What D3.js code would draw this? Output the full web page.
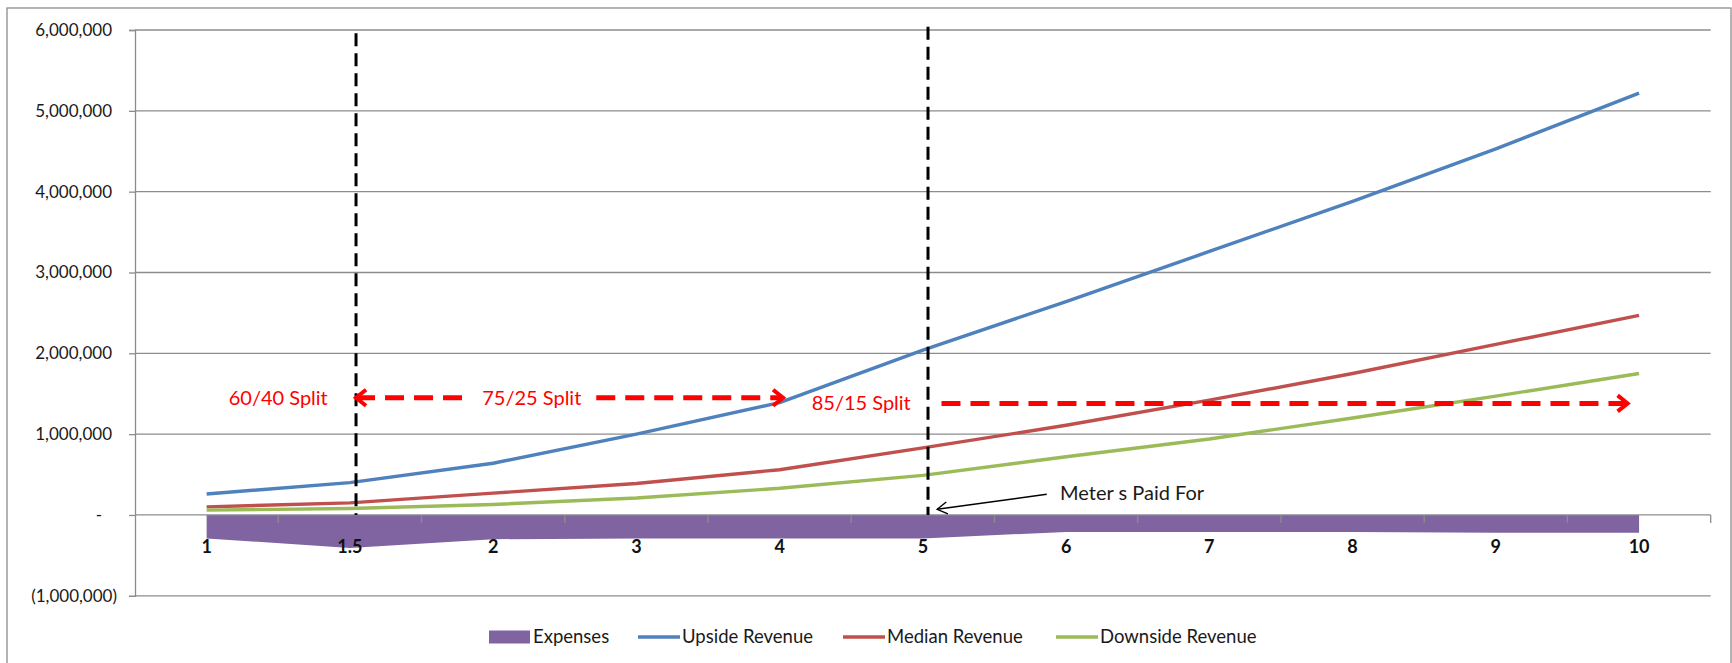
<!DOCTYPE html>
<html>
<head>
<meta charset="utf-8">
<script src="https://cdn.jsdelivr.net/npm/d3@7"></script>
<style>
  body { margin: 0; background: #fff; }
  text { font-family: Lato, "Open Sans", sans-serif; }
</style>
</head>
<body>
<svg id="chart" width="1732" height="663"></svg>
<script>
// chart data
var categories = ["1", "1.5", "2", "3", "4", "5", "6", "7", "8", "9", "10"];
var expenses = [-290000, -410000, -300000, -290000, -290000, -290000, -210000, -210000, -210000, -220000, -220000];
var upside   = [260000, 400000, 640000, 1000000, 1390000, 2040000, 2640000, 3260000, 3880000, 4530000, 5220000];
var median   = [100000, 150000, 270000, 390000, 560000, 830000, 1110000, 1420000, 1750000, 2110000, 2470000];
var downside = [60000, 80000, 130000, 210000, 330000, 490000, 720000, 940000, 1200000, 1470000, 1750000];
var yTicks = [-1000000, 0, 1000000, 2000000, 3000000, 4000000, 5000000, 6000000];

var seriesNames = ["Expenses", "Upside Revenue", "Median Revenue", "Downside Revenue"];

// annotations, in category-index / value units
var splitLabels = [
  { text: "60/40 Split", at: 0.5, v: 1450000 },
  { text: "75/25 Split", at: 2.27, v: 1450000 },
  { text: "85/15 Split", at: 4.57, v: 1380000 }
];

var svg = d3.select("#chart"),
  width = 1732,
  height = 663;

var plotLeft = 135, plotRight = 1710.7, plotTop = 30, plotBottom = 595.8;

var colors = { exp: "#8064a2", up: "#4f81bd", med: "#c0504d", down: "#9bbb59" };

// outer frame
svg.append("rect")
  .attr("x", 7).attr("y", 8)
  .attr("width", 1724).attr("height", 670)
  .attr("fill", "none").attr("stroke", "#8c8c8c").attr("stroke-width", 1.3);

var x = d3.scaleBand().domain(categories).range([plotLeft, plotRight]).padding(0);
var bw = x.bandwidth();
function cx(c) { return x(c) + bw / 2; }
// position in category-index units for annotations
var xi = d3.scaleLinear().domain([-0.5, categories.length - 0.5]).range([plotLeft, plotRight]);

var y = d3.scaleLinear().domain([-1000000, 6000000]).range([plotBottom, plotTop]);

// gridlines
svg.append("g")
  .selectAll("line")
  .data(yTicks.filter(function(d) { return d != 0; }))
  .enter()
  .append("line")
    .attr("x1", plotLeft).attr("x2", plotRight)
    .attr("y1", function(d) { return y(d); })
    .attr("y2", function(d) { return y(d); })
    .attr("stroke", "#8c8c8c").attr("stroke-width", 1.3);

// expenses area
var area = d3.area()
  .x(function(d, i) { return cx(categories[i]); })
  .y0(y(0))
  .y1(function(d) { return y(d); });

svg.append("path")
  .datum(expenses)
  .attr("d", area)
  .attr("fill", colors.exp);

// y axis
var fmt = d3.format(",");
var yAxis = svg.append("g")
  .attr("transform", "translate(" + plotLeft + ",0)")
  .call(d3.axisLeft(y).tickValues(yTicks).tickSize(6).tickPadding(17)
    .tickFormat(function(d) {
      if (d == 0) return "-";
      if (d < 0) return "(" + fmt(-d) + ")";
      return fmt(d);
    }));
yAxis.select(".domain").attr("stroke", "#8c8c8c").attr("stroke-width", 1.3);
yAxis.selectAll(".tick line").attr("stroke", "#8c8c8c").attr("stroke-width", 1.3);
yAxis.selectAll(".tick text")
  .attr("fill", "#1a1a1a")
  .style("font-size", "17px")
  .attr("dx", function(d) { return d < 0 ? 5 : (d == 0 ? -10 : 0); });

// x axis on the zero line
var xAxis = svg.append("g")
  .attr("transform", "translate(0," + y(0) + ")")
  .call(d3.axisBottom(x).tickSize(0).tickSizeOuter(0));
xAxis.select(".domain").attr("stroke", "#8c8c8c").attr("stroke-width", 1.3)
  .attr("d", "M" + plotLeft + ",0H" + plotRight);
xAxis.selectAll(".tick text")
  .attr("y", 32).attr("dy", "0.35em")
  .attr("fill", "#111")
  .style("font-size", "18px").style("font-weight", "bold");

// tick marks between categories
xAxis.selectAll(".btick")
  .data(categories.slice(1).concat(["end"]))
  .enter()
  .append("line")
    .attr("class", "btick")
    .attr("x1", function(d) { return d == "end" ? plotRight : x(d); })
    .attr("x2", function(d) { return d == "end" ? plotRight : x(d); })
    .attr("y1", 0).attr("y2", 8)
    .attr("stroke", "#8c8c8c").attr("stroke-width", 1.3);

// revenue lines
var line = d3.line()
  .x(function(d, i) { return cx(categories[i]); })
  .y(function(d) { return y(d); });

[[upside, colors.up], [median, colors.med], [downside, colors.down]].forEach(function(s) {
  svg.append("path")
    .datum(s[0])
    .attr("d", line)
    .attr("fill", "none")
    .attr("stroke", s[1])
    .attr("stroke-width", 3.4)
    .attr("stroke-linejoin", "round");
});

// markers for arrows
var defs = svg.append("defs");
defs.append("marker")
  .attr("id", "redhead")
  .attr("markerUnits", "userSpaceOnUse")
  .attr("markerWidth", 24).attr("markerHeight", 24)
  .attr("refX", 14).attr("refY", 10)
  .attr("orient", "auto-start-reverse")
  .attr("viewBox", "0 0 24 20")
  .append("path")
    .attr("d", "M4,2 L14,10 L4,18")
    .attr("fill", "none").attr("stroke", "#ff0000").attr("stroke-width", 4);
defs.append("marker")
  .attr("id", "blackhead")
  .attr("markerUnits", "userSpaceOnUse")
  .attr("markerWidth", 16).attr("markerHeight", 16)
  .attr("refX", 12).attr("refY", 8)
  .attr("orient", "auto")
  .attr("viewBox", "0 0 16 16")
  .append("path")
    .attr("d", "M2,2 L12,8 L2,14")
    .attr("fill", "none").attr("stroke", "#000").attr("stroke-width", 1.4);

// black dashed phase lines
var phases = [[1.043, 5960000], [5.036, 6040000]];
svg.append("g")
  .selectAll("line")
  .data(phases)
  .enter()
  .append("line")
    .attr("x1", function(d) { return xi(d[0]); })
    .attr("x2", function(d) { return xi(d[0]); })
    .attr("y1", function(d) { return y(d[1]); })
    .attr("y2", y(0))
    .attr("stroke", "#000").attr("stroke-width", 3)
    .attr("stroke-dasharray", "13,7");

// red split arrows
var splitArrows = [
  { from: 1.043, to: 1.83, v: 1450000, start: true, end: false },
  { from: 2.72, to: 4.024, v: 1450000, start: false, end: true },
  { from: 5.13, to: 9.92, v: 1380000, start: false, end: true }
];
svg.append("g")
  .selectAll("line")
  .data(splitArrows)
  .enter()
  .append("line")
    .attr("x1", function(d) { return xi(d.from); })
    .attr("x2", function(d) { return xi(d.to); })
    .attr("y1", function(d) { return y(d.v); })
    .attr("y2", function(d) { return y(d.v); })
    .attr("stroke", "#ff0000").attr("stroke-width", 5)
    .attr("stroke-dasharray", "19,10")
    .attr("marker-start", function(d) { return d.start ? "url(#redhead)" : null; })
    .attr("marker-end", function(d) { return d.end ? "url(#redhead)" : null; });

svg.append("g")
  .selectAll("text")
  .data(splitLabels)
  .enter()
  .append("text")
    .attr("x", function(d) { return xi(d.at); })
    .attr("y", function(d) { return y(d.v); })
    .attr("dy", "0.35em")
    .attr("text-anchor", "middle")
    .attr("fill", "#ff0000")
    .style("font-size", "20px")
    .text(function(d) { return d.text; });

// "Meter s Paid For" note
svg.append("line")
  .attr("x1", xi(5.865)).attr("y1", y(256000))
  .attr("x2", xi(5.1)).attr("y2", y(70000))
  .attr("stroke", "#000").attr("stroke-width", 1.4)
  .attr("marker-end", "url(#blackhead)");
svg.append("text")
  .attr("x", xi(5.958)).attr("y", y(270000))
  .attr("dy", "0.35em")
  .attr("fill", "#1a1a1a")
  .style("font-size", "20px")
  .text("Meter s Paid For");

// legend
var legendX = [489, 638, 843, 1056];
var legend = svg.append("g")
  .selectAll("g")
  .data(seriesNames)
  .enter()
  .append("g")
    .attr("transform", function(d, i) { return "translate(" + legendX[i] + ",637)"; });

legend.each(function(d, i) {
  var g = d3.select(this);
  if (i == 0) {
    g.append("rect").attr("x", 0).attr("y", -6.5).attr("width", 41).attr("height", 13)
      .attr("fill", colors.exp);
  } else {
    g.append("line").attr("x1", 0).attr("x2", 42).attr("y1", 0).attr("y2", 0)
      .attr("stroke", [colors.up, colors.med, colors.down][i - 1]).attr("stroke-width", 3.5);
  }
  g.append("text")
    .attr("x", 44)
    .attr("dy", "0.35em")
    .attr("fill", "#1a1a1a")
    .style("font-size", "18.5px")
    .text(d);
});
</script>
</body>
</html>
